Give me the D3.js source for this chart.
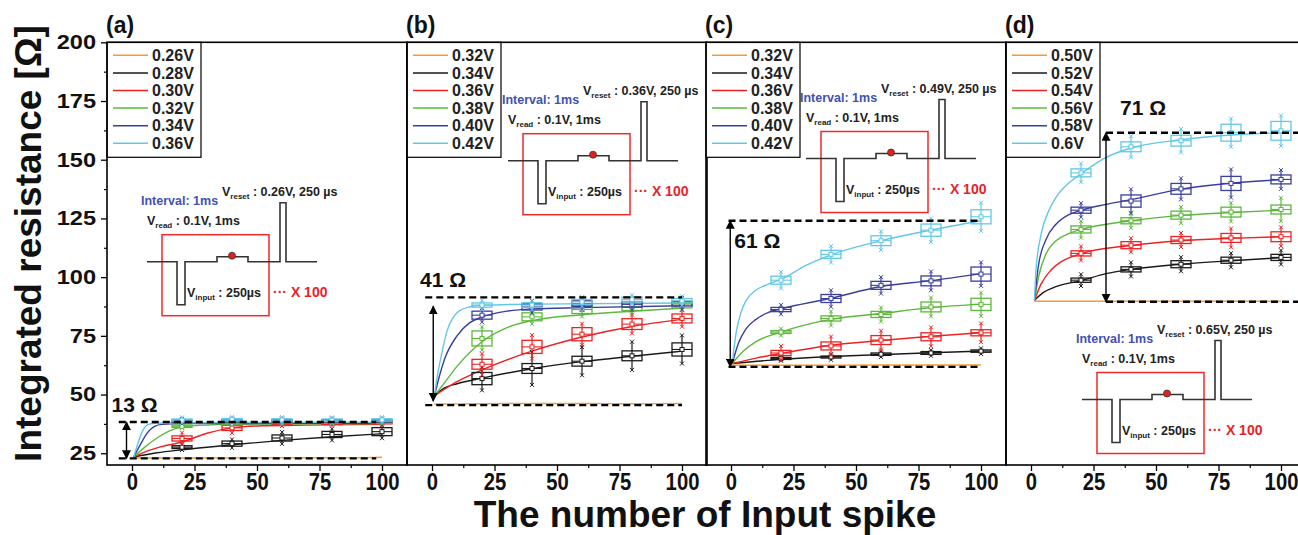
<!DOCTYPE html>
<html>
<head>
<meta charset="utf-8">
<script src="https://cdnjs.cloudflare.com/ajax/libs/d3/7.8.5/d3.min.js"></script>
<style>
  body { margin: 0; background: #fff; }
  svg { font-family: "Liberation Sans", Arial, sans-serif; }
</style>
</head>
<body>
<div class="graph"></div>
<script>
// shared values
const spikes = [20, 40, 60, 80, 100];
const colors = ['#f39c34', '#1a1a1a', '#ee2222', '#5cb83c', '#3a3f9c', '#62c7e6'];
const yTicks = [25, 50, 75, 100, 125, 150, 175, 200];
const xTicks = [0, 25, 50, 75, 100];

// panel (a)
const aVolts = ['0.26V', '0.28V', '0.30V', '0.32V', '0.34V', '0.36V'];
const aFit = [
  [[0.7, 23.0], [30, 23.0], [60, 23.1], [90, 23.1], [100, 23.3]],
  [[0.7, 23.4], [10, 25.2], [20, 26.5], [40, 28.6], [60, 30.5], [80, 32], [100, 33.3]],
  [[0.7, 23.4], [5, 25.5], [10, 27.3], [20, 29.8], [30, 33.5], [40, 35.8], [50, 36.6], [70, 37.0], [100, 37.3]],
  [[0.7, 23.4], [5, 27.5], [10, 31.5], [15, 34.5], [20, 36.2], [30, 37.0], [50, 37.4], [100, 37.6]],
  [[0.7, 23.4], [3, 28], [6, 33.5], [9, 36.5], [12, 37.3], [20, 37.6], [100, 37.8]],
  [[0.7, 23.4], [2, 28], [4, 34], [6, 37], [9, 37.8], [20, 38], [100, 38.2]]
];
const aMid = [[27.6, 29.1, 31.5, 33.0, 34.2], [31.3, 35.8, 37.6, 37.8, 38.0], [36.5, 37.6, 38.4, 38.3, 38.3],
  [38.6, 38.8, 38.8, 38.8, 38.8], [39.1, 39.3, 39.2, 39.1, 39.2]];
const aHalf = [[0.6, 1.1, 1.3, 1.3, 1.7], [1.1, 1.1, 0.5, 0.5, 0.5], [0.5, 0.5, 0.5, 0.5, 0.5],
  [0.5, 0.5, 0.5, 0.5, 0.5], [0.5, 0.5, 0.5, 0.5, 0.5]];
const aWhisk = [[1.2, 1.8, 2.5, 2.5, 2.8], [2.5, 2.2, 1, 1, 1], [0.8, 0.8, 0.8, 0.8, 0.8],
  [1, 1, 1, 1, 1], [1.2, 1.2, 1.2, 1.2, 1.2]];
const aLevels = [38.3, 22.8];
const aDelta = '13 Ω';
const aReset = '0.26V';

// panel (b)
const bVolts = ['0.32V', '0.34V', '0.36V', '0.38V', '0.40V', '0.42V'];
const bFit = [
  [[1, 46.0], [20, 46.1], [40, 46.2], [60, 46.2], [80, 46.1], [100, 46.2]],
  [[1, 49.5], [5, 52.8], [10, 54.6], [20, 57], [40, 61], [60, 64], [80, 66.3], [100, 68.5]],
  [[1, 49.5], [10, 55.5], [20, 60.5], [40, 68.5], [60, 74.5], [80, 79], [100, 82]],
  [[1, 49.5], [5, 55], [10, 62], [20, 72.5], [30, 78.5], [40, 81.5], [60, 84], [80, 85.5], [100, 86.8]],
  [[1, 49.5], [3, 58], [5, 65], [10, 75], [15, 80.5], [20, 83], [30, 85.5], [40, 86.5], [60, 87], [100, 87.8]],
  [[1, 49.5], [2, 57], [4, 68], [6, 77], [8, 82], [10, 84.8], [15, 87.3], [20, 88], [40, 88.5], [100, 89]]
];
const bMid = [[56.8, 61.1, 64.2, 66.5, 69.2], [62.9, 70.3, 75.7, 80.0, 82.4], [73.9, 83.1, 86.2, 87.3, 88.1],
  [83.8, 87.3, 88.7, 88.4, 88.7], [88.1, 88.1, 89.5, 90.5, 89.9]];
const bHalf = [[2.6, 2.1, 2.1, 2.1, 2.8], [2.1, 2.8, 2.8, 2.3, 1.9], [3.2, 1.7, 1.7, 1.5, 1.2],
  [1.7, 1.3, 1.2, 1.2, 1.0], [0.9, 1, 1, 1, 1]];
const bWhisk = [[5, 7, 6, 6, 6], [4.5, 5, 4.5, 4, 3.5], [5, 3, 3, 2.5, 2],
  [3, 2.5, 2.5, 2.5, 2.5], [2, 2, 2, 2, 2]];
const bLevels = [91.4, 45.5];
const bDelta = '41 Ω';
const bReset = '0.36V';

// panel (c)
const cVolts = ['0.32V', '0.34V', '0.36V', '0.38V', '0.40V', '0.42V'];
const cFit = [
  [[0.5, 62.5], [30, 62.5], [60, 62.6], [100, 62.6]],
  [[0.5, 63.2], [20, 65], [40, 66.2], [60, 67], [80, 67.8], [100, 68.5]],
  [[0.5, 63.2], [10, 65.5], [20, 67.5], [40, 71], [60, 73], [80, 74.8], [100, 76.3]],
  [[0.5, 63.2], [5, 68.5], [10, 72.5], [20, 76.6], [40, 82], [60, 84.5], [80, 87], [100, 88.5]],
  [[0.5, 63.2], [3, 72], [6, 78], [10, 82], [15, 85], [20, 86.5], [40, 91], [60, 96], [80, 98.5], [100, 101.5]],
  [[0.5, 63.2], [2, 76], [4, 85], [6, 90], [10, 94.5], [15, 97], [20, 99], [30, 105], [40, 109.5], [60, 115.5], [80, 120], [100, 124]]
];
const cMid = [[65.4, 66.0, 67.2, 67.7, 68.5], [67.7, 70.7, 73.2, 74.6, 76.3], [76.6, 82.4, 84.1, 87.3, 88.4],
  [86.2, 90.9, 96.5, 98.4, 101.3], [98.7, 109.7, 115.5, 120.0, 125.7]];
const cHalf = [[0.4, 0.4, 0.5, 0.6, 0.5], [1.1, 1.7, 1.9, 1.7, 1.3], [0.6, 1.1, 1.3, 2.1, 2.6],
  [0.9, 1.7, 1.7, 2.1, 3.0], [1.7, 1.7, 2.1, 2.6, 3.0]];
const cWhisk = [[1, 1.2, 1.2, 1.2, 1.2], [3, 4, 4, 4, 4], [1.5, 3, 3, 4, 5],
  [2, 3.5, 3.5, 4, 5], [3.5, 3.5, 4, 5, 6]];
const cLevels = [124.0, 61.8];
const cDelta = '61 Ω';
const cReset = '0.49V';

// panel (d)
const dVolts = ['0.50V', '0.52V', '0.54V', '0.56V', '0.58V', '0.6V'];
const dFit = [
  [[1.4, 89.7], [30, 89.7], [60, 89.7], [100, 89.7]],
  [[1.4, 90.2], [5, 93.5], [10, 96], [20, 98.5], [30, 101.5], [40, 103.3], [60, 105.5], [80, 107], [100, 108.3]],
  [[1.4, 90.2], [4, 97], [8, 103], [12, 106.5], [20, 110], [40, 113.5], [60, 115.5], [80, 116.5], [100, 117.2]],
  [[1.4, 90.2], [3, 100], [6, 110], [10, 115.5], [15, 118.5], [20, 120.3], [40, 124], [60, 126.3], [80, 127.5], [100, 128.5]],
  [[1.4, 90.2], [3, 105], [6, 116], [10, 122.5], [15, 126.5], [20, 128.5], [30, 131], [40, 133], [60, 137.5], [80, 140], [100, 141.5]],
  [[1.4, 90.2], [2, 103], [4, 118], [7, 128], [10, 134], [15, 140], [20, 144], [30, 151], [40, 155], [60, 158.5], [80, 160.5], [100, 161.5]]
];
const dMid = [[98.7, 103.3, 105.5, 107.2, 108.4], [110.1, 113.6, 115.8, 116.7, 117.2], [120.3, 124.0, 126.4, 127.7, 128.8],
  [128.5, 132.4, 137.6, 139.9, 141.6], [144.4, 155.5, 158.1, 161.5, 162.3]];
const dHalf = [[0.9, 1.1, 1.5, 1.3, 1.3], [1.1, 1.5, 1.5, 1.9, 2.1], [1.5, 1.3, 1.7, 2.1, 1.9],
  [1.3, 2.6, 2.3, 3.0, 1.9], [1.7, 2.1, 2.3, 3.6, 4.0]];
const dWhisk = [[2.5, 3, 3, 3, 3], [3, 3, 3, 4, 4], [3.5, 3, 3.5, 4, 5],
  [3, 5, 4.5, 6, 4], [4, 4.5, 5, 6, 6.5]];
const dLevels = [161.5, 89.5];
const dDelta = '71 Ω';
const dReset = '0.65V';

// layout of the four panels (pixels / annotation spots)
const plotTop = 42.3, plotBottom = 465, panelW = 300;
const panels = [
  { tag: '(a)', left: 107, volts: aVolts, fit: aFit, mid: aMid, half: aHalf, whisk: aWhisk, levels: aLevels, delta: aDelta, reset: aReset,
    inset: [147, 261.7], dashX: [-5.3, 97.7], arrowX: -2.2, arrowY: aLevels, deltaAt: [-8.2, 42.6] },
  { tag: '(b)', left: 407, volts: bVolts, fit: bFit, mid: bMid, half: bHalf, whisk: bWhisk, levels: bLevels, delta: bDelta, reset: bReset,
    inset: [508, 160.7], dashX: [-2.7, 100], arrowX: 0.5, arrowY: [87.6, 47.2], deltaAt: [-4.8, 95.9] },
  { tag: '(c)', left: 706, volts: cVolts, fit: cFit, mid: cMid, half: cHalf, whisk: cWhisk, levels: cLevels, delta: cDelta, reset: cReset,
    inset: [806, 158.5], dashX: [-1, 100], arrowX: -0.3, arrowY: cLevels, deltaAt: [1.3, 112.2] },
  { tag: '(d)', left: 1006, volts: dVolts, fit: dFit, mid: dMid, half: dHalf, whisk: dWhisk, levels: dLevels, delta: dDelta, reset: dReset,
    inset: [1082, 399.5], dashX: [30, 112], arrowX: 30, arrowY: dLevels, deltaAt: [35.6, 169] }
];

const svg = d3.select('.graph').append('svg')
  .attr('width', 1298).attr('height', 535);

const defs = svg.append('defs');
defs.append('marker').attr('id', 'arrowHead')
  .attr('viewBox', '0 0 10 10').attr('refX', 9).attr('refY', 5)
  .attr('markerWidth', 9).attr('markerHeight', 9).attr('markerUnits', 'userSpaceOnUse')
  .attr('orient', 'auto-start-reverse')
  .append('path').attr('d', 'M0,0L10,5L0,10Z').attr('fill', '#000');

const yScale = d3.scaleLinear().domain([20, 200]).range([plotBottom, plotTop]);

// y axis on panel (a)
const yAxis = d3.axisLeft(yScale).tickValues(yTicks).tickSize(6).tickPadding(5).tickFormat(d3.format('d'));
const yG = svg.append('g').attr('transform', `translate(107,0)`).call(yAxis);
yG.select('.domain').remove();
yG.selectAll('line').attr('stroke-width', 1.3);
yG.selectAll('text').attr('font-size', 20).attr('font-weight', 'bold').attr('fill', '#111')
  .each(function () {
    const w = this.getComputedTextLength();
    d3.select(this).attr('textLength', w * 1.18).attr('lengthAdjust', 'spacingAndGlyphs');
  });
svg.append('g').attr('transform', `translate(107,0)`)
  .call(d3.axisLeft(yScale).tickValues(d3.range(37.5, 200, 25)).tickSize(3).tickFormat(''))
  .call(g => g.select('.domain').remove())
  .selectAll('line').attr('stroke-width', 1.2);

const line = d3.line().curve(d3.curveMonotoneX);

panels.forEach(p => {
  const x = d3.scaleLinear().domain([-10, 110]).range([p.left, p.left + panelW]);
  line.x(d => x(d[0])).y(d => yScale(d[1]));
  const g = svg.append('g');

  // inset pulse diagram
  const [ix, iy] = p.inset;
  const ins = g.append('g').attr('transform', `translate(${ix},${iy})`);
  const wave = [[0, 0], [30, 0], [30, 43], [38, 43], [38, 0], [70, 0], [70, -5], [101, -5], [101, 0],
    [133, 0], [133, -59], [139, -59], [139, 0], [170, 0]];
  ins.append('rect').attr('x', 15).attr('y', -27).attr('width', 107).attr('height', 81)
    .attr('fill', 'none').attr('stroke', '#ee2a2a').attr('stroke-width', 1.5);
  ins.append('path').attr('d', d3.line()(wave)).attr('fill', 'none')
    .attr('stroke', '#333').attr('stroke-width', 1.6);
  ins.append('circle').attr('cx', 85).attr('cy', -6).attr('r', 3.5)
    .attr('fill', '#e32020').attr('stroke', '#333').attr('stroke-width', 0.8);
  ins.append('text').attr('x', -6).attr('y', -57).attr('font-size', 12.5).attr('font-weight', 'bold')
    .attr('fill', '#4352b0').text('Interval: 1ms');
  const sub = (x0, y0, s, rest) => {
    const tx = ins.append('text').attr('x', x0).attr('y', y0).attr('font-size', 12.5)
      .attr('font-weight', 'bold').attr('fill', '#222');
    tx.append('tspan').text('V');
    tx.append('tspan').attr('font-size', 8).attr('dy', 3).text(s);
    tx.append('tspan').attr('dy', -3).text(rest);
  };
  sub(75, -65.5, 'reset', ` : ${p.reset}, 250 µs`);
  sub(0, -37, 'read', ' : 0.1V, 1ms');
  sub(40, 35, 'input', ' : 250µs');
  ins.append('text').attr('x', 126).attr('y', 35).attr('font-size', 14).attr('font-weight', 'bold')
    .attr('fill', '#e8232a').text('··· X 100');

  // fitted lines
  p.fit.forEach((pts, k) => {
    g.append('path').attr('d', line(pts)).attr('fill', 'none')
      .attr('stroke', colors[k]).attr('stroke-width', 1.4);
  });

  // box plots at 20..100 spikes
  p.mid.forEach((mids, k) => {
    const c = colors[k + 1];
    spikes.forEach((s, i) => {
      const m = mids[i], h = p.half[k][i], w = p.whisk[k][i];
      const cx = x(s);
      g.append('line').attr('x1', cx).attr('x2', cx)
        .attr('y1', yScale(m - w)).attr('y2', yScale(m + w))
        .attr('stroke', c).attr('stroke-width', 1.2);
      [m - w, m + w].forEach(v => {
        const yy = yScale(v);
        g.append('path')
          .attr('d', `M${cx - 2},${yy - 2}L${cx + 2},${yy + 2}M${cx + 2},${yy - 2}L${cx - 2},${yy + 2}`)
          .attr('stroke', c).attr('stroke-width', 1);
      });
      g.append('rect').attr('x', cx - 10).attr('y', yScale(m + h))
        .attr('width', 20).attr('height', Math.max(yScale(m - h) - yScale(m + h), 2))
        .attr('fill', 'none').attr('stroke', c).attr('stroke-width', 1.3);
      g.append('line').attr('x1', cx - 10).attr('x2', cx + 10)
        .attr('y1', yScale(m)).attr('y2', yScale(m)).attr('stroke', c).attr('stroke-width', 1.1);
      g.append('rect').attr('x', cx - 2).attr('y', yScale(m) - 2).attr('width', 4).attr('height', 4)
        .attr('fill', '#fff').attr('stroke', c).attr('stroke-width', 1);
    });
  });

  // dashed levels and double arrow
  p.levels.forEach(v => {
    g.append('line').attr('x1', x(p.dashX[0])).attr('x2', x(p.dashX[1]))
      .attr('y1', yScale(v)).attr('y2', yScale(v))
      .attr('stroke', '#000').attr('stroke-width', 2.4).attr('stroke-dasharray', '7,4');
  });
  g.append('line').attr('x1', x(p.arrowX)).attr('x2', x(p.arrowX))
    .attr('y1', yScale(p.arrowY[0])).attr('y2', yScale(p.arrowY[1]))
    .attr('stroke', '#000').attr('stroke-width', 1.4)
    .attr('marker-start', 'url(#arrowHead)').attr('marker-end', 'url(#arrowHead)');
  g.append('text').attr('x', x(p.deltaAt[0])).attr('y', yScale(p.deltaAt[1]))
    .attr('font-size', 21).attr('font-weight', 'bold').attr('fill', '#111').text(p.delta);

  // legend
  const lg = g.append('g').attr('transform', `translate(${p.left},${plotTop})`);
  lg.append('rect').attr('width', 94).attr('height', 115)
    .attr('fill', '#fff').attr('stroke', '#000').attr('stroke-width', 1.2);
  p.volts.forEach((v, k) => {
    const yy = 13 + k * 17.6;
    lg.append('line').attr('x1', 6).attr('x2', 41).attr('y1', yy).attr('y2', yy)
      .attr('stroke', colors[k]).attr('stroke-width', 1.5);
    lg.append('text').attr('x', 45).attr('y', yy).attr('dy', '0.36em')
      .attr('font-size', 16).attr('font-weight', 'bold').attr('fill', '#222').text(v);
  });

  // frame
  g.append('rect').attr('x', p.left).attr('y', plotTop).attr('width', panelW).attr('height', plotBottom - plotTop)
    .attr('fill', 'none').attr('stroke', '#000').attr('stroke-width', 1.6);

  // x axis
  const xa = svg.append('g').attr('transform', `translate(0,${plotBottom})`)
    .call(d3.axisBottom(x).tickValues(xTicks).tickSize(6).tickPadding(3));
  xa.select('.domain').remove();
  xa.selectAll('line').attr('stroke-width', 1.3);
  xa.selectAll('text').attr('font-size', 23).attr('font-weight', 'bold').attr('fill', '#111')
    .each(function () {
      const w = this.getComputedTextLength();
      d3.select(this).attr('textLength', w * 0.88).attr('lengthAdjust', 'spacingAndGlyphs');
    });
  svg.append('g').attr('transform', `translate(0,${plotBottom})`)
    .call(d3.axisBottom(x).tickValues([12.5, 37.5, 62.5, 87.5]).tickSize(3).tickFormat(''))
    .call(s => s.select('.domain').remove())
    .selectAll('line').attr('stroke-width', 1.2);

  svg.append('text').attr('x', p.left - 1).attr('y', 33)
    .attr('font-size', 23).attr('font-weight', 'bold').attr('fill', '#111').text(p.tag);
});

// axis titles
svg.append('text').attr('transform', 'translate(41,243.5) rotate(-90)')
  .attr('text-anchor', 'middle').attr('font-size', 37).attr('font-weight', 'bold').attr('fill', '#111')
  .text('Integrated resistance [Ω]');
svg.append('text').attr('x', 705).attr('y', 527)
  .attr('text-anchor', 'middle').attr('font-size', 37).attr('font-weight', 'bold').attr('fill', '#111')
  .text('The number of Input spike');
</script>
</body>
</html>
